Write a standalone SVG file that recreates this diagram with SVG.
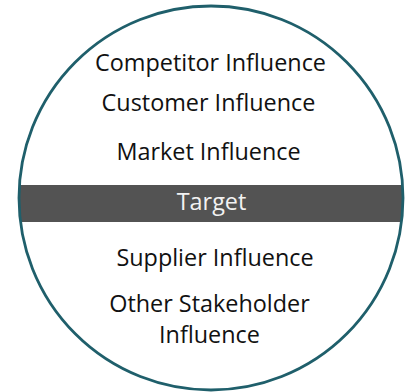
<svg xmlns="http://www.w3.org/2000/svg" width="406" height="392" viewBox="0 0 406 392">
  <style>
    .lbl { font-family: "Open Sans", "Noto Sans", sans-serif; font-size: 23.4px; fill: #111111; text-anchor: middle; }
    .band-lbl { font-family: "Open Sans", "Noto Sans", sans-serif; font-size: 23.4px; fill: #f2f2f2; text-anchor: middle; }
  </style>
  <defs>
    <clipPath id="disc">
      <circle cx="211" cy="198" r="192"/>
    </clipPath>
  </defs>
  <rect width="406" height="392" fill="#ffffff"/>
  <g id="circle">
    <circle cx="211" cy="198" r="192" fill="#ffffff"/>
    <rect x="0" y="185" width="406" height="37" fill="#535353" clip-path="url(#disc)"/>
    <circle cx="211" cy="198" r="192" fill="none" stroke="#1f5f6b" stroke-width="2.8"/>
  </g>
  <g id="competitor"><text class="lbl" x="210.5" y="71">Competitor Influence</text></g>
  <g id="customer"><text class="lbl" x="208.5" y="111">Customer Influence</text></g>
  <g id="market"><text class="lbl" x="208.5" y="160">Market Influence</text></g>
  <g id="target"><text class="band-lbl" x="211.5" y="210">Target</text></g>
  <g id="supplier"><text class="lbl" x="215" y="266">Supplier Influence</text></g>
  <g id="other">
    <text class="lbl" x="209.5" y="312">Other Stakeholder</text>
    <text class="lbl" x="209.5" y="343">Influence</text>
  </g>
</svg>
